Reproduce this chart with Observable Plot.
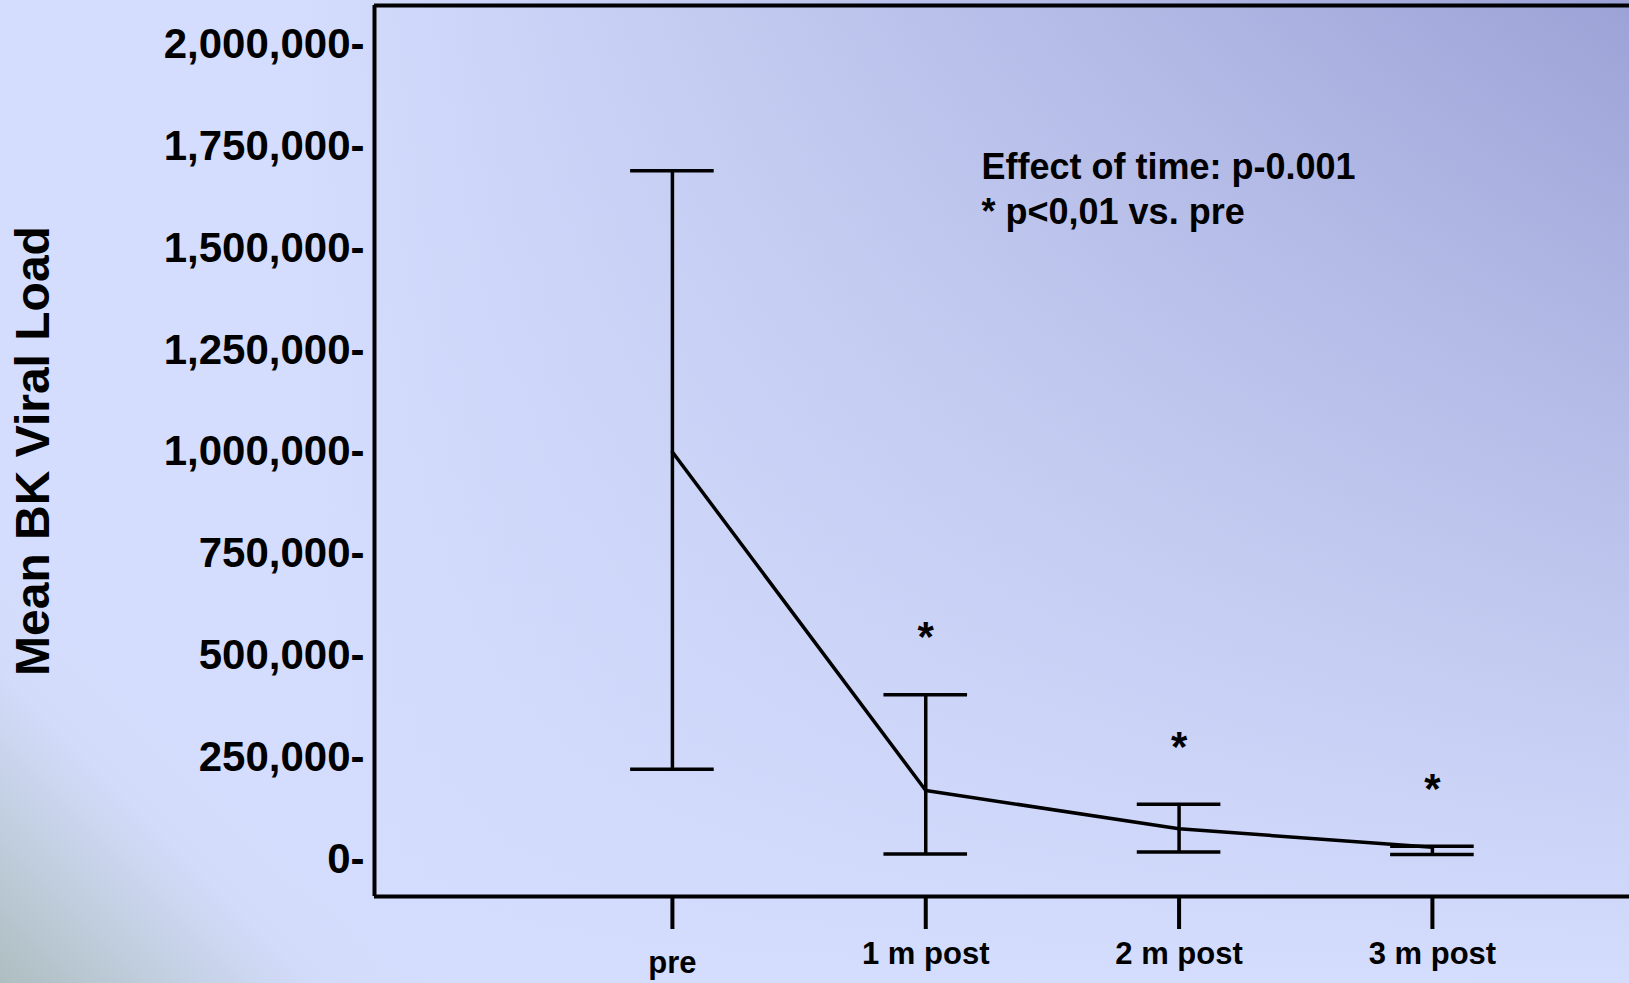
<!DOCTYPE html>
<html>
<head>
<meta charset="utf-8">
<script src="https://cdn.jsdelivr.net/npm/d3@7"></script>
<script src="https://cdn.jsdelivr.net/npm/@observablehq/plot@0.6"></script>
<style>
  html, body { margin: 0; padding: 0; width: 1629px; height: 983px; overflow: hidden; }
  body {
    background:
      linear-gradient(45deg, rgba(174,190,192,1) 0%, rgba(190,204,218,0.75) 7%, rgba(206,216,244,0.3) 12%, rgba(212,221,253,0) 17%),
      linear-gradient(to top, rgba(212,221,253,1) 0%, rgba(212,221,253,0) 100%),
      linear-gradient(to right, #d4ddfd 0%, #d4ddfd 18%, #9ca2d6 100%);
  }
  #chart svg { display: block; background: transparent; }
  g[aria-label="note"] text { letter-spacing: 1.9px; }
</style>
</head>
<body>
<div id="chart"></div>
<script>
// ---- data ----
const timepoints = ["pre", "1 m post", "2 m post", "3 m post"];
const meanLoad   = [1000000, 170000, 76000, 31000];
const upperLoad  = [1690000, 405000, 136000, 33000];
const lowerLoad  = [222000, 14000, 19000, 13000];
const significant = [false, true, true, true];
const yTickValues = [0, 250000, 500000, 750000, 1000000, 1250000, 1500000, 1750000, 2000000];
const yTitle = "Mean BK Viral Load";
const noteLines = ["Effect of time: p-0.001", "* p<0,01 vs. pre"];

// ---- build table ----
const rows = timepoints.map((t, i) => ({
  i, t, mean: meanLoad[i], hi: upperLoad[i], lo: lowerLoad[i], sig: significant[i]
}));

const xDomain = [-1.176, 3.778];
const yDomain = [-90000, 2095000];
const capHalf = 0.165;
const fmt = d3.format(",");
const font = "'Liberation Sans', Arial, Helvetica, sans-serif";

const chart = Plot.plot({
  width: 1629,
  height: 983,
  marginLeft: 374,
  marginRight: 0,
  marginTop: 5,
  marginBottom: 87,
  style: { background: "transparent", fontFamily: font, color: "#000", overflow: "visible" },
  x: { domain: xDomain },
  y: { domain: yDomain },
  marks: [
    Plot.axisY({
      ticks: yTickValues, tickSize: 0, tickPadding: 10,
      tickFormat: d => fmt(d) + "-",
      fontSize: 42, fontWeight: "bold", label: null
    }),
    Plot.axisX({
      ticks: rows.map(d => d.i), tickSize: 33, tickPadding: 12,
      tickFormat: i => timepoints[i],
      fontSize: 31, fontWeight: "bold", label: null,
      strokeWidth: 4, stroke: "#000"
    }),
    // frame: left, top, bottom
    Plot.ruleX([xDomain[0]], { stroke: "#000", strokeWidth: 4 }),
    Plot.ruleY([yDomain[1]], { stroke: "#000", strokeWidth: 4 }),
    Plot.ruleY([yDomain[0]], { stroke: "#000", strokeWidth: 4 }),
    // error bars
    Plot.ruleX(rows, { x: "i", y1: "lo", y2: "hi", stroke: "#000", strokeWidth: 3.5 }),
    Plot.ruleY(rows, { y: "hi", x1: d => d.i - capHalf, x2: d => d.i + capHalf, stroke: "#000", strokeWidth: 3.5 }),
    Plot.ruleY(rows, { y: "lo", x1: d => d.i - capHalf, x2: d => d.i + capHalf, stroke: "#000", strokeWidth: 3.5 }),
    // mean line
    Plot.line(rows, { x: "i", y: "mean", stroke: "#000", strokeWidth: 3.5 }),
    // significance asterisks
    Plot.text(rows.filter(d => d.sig), {
      x: "i", y: "hi", text: () => "*", dy: -57,
      fontSize: 42, fontWeight: "bold", fill: "#000"
    }),
    // annotation
    Plot.text([noteLines.join("\n")], {
      ariaLabel: "note",
      frameAnchor: "top-left", dx: 607, dy: 142,
      textAnchor: "start", lineAnchor: "top", lineHeight: 1.25,
      fontSize: 36, fontWeight: "bold", fill: "#000"
    }),
    // y title
    Plot.text([yTitle], {
      frameAnchor: "left", dx: -341, rotate: -90, textAnchor: "middle",
      fontSize: 48, fontWeight: "bold", fill: "#000"
    })
  ]
});
document.getElementById("chart").appendChild(chart);
// the "pre" label sits a little lower than the others in the original
d3.select(chart).select('g[aria-label="x-axis tick label"] text').attr("y", "1em");
</script>
</body>
</html>
